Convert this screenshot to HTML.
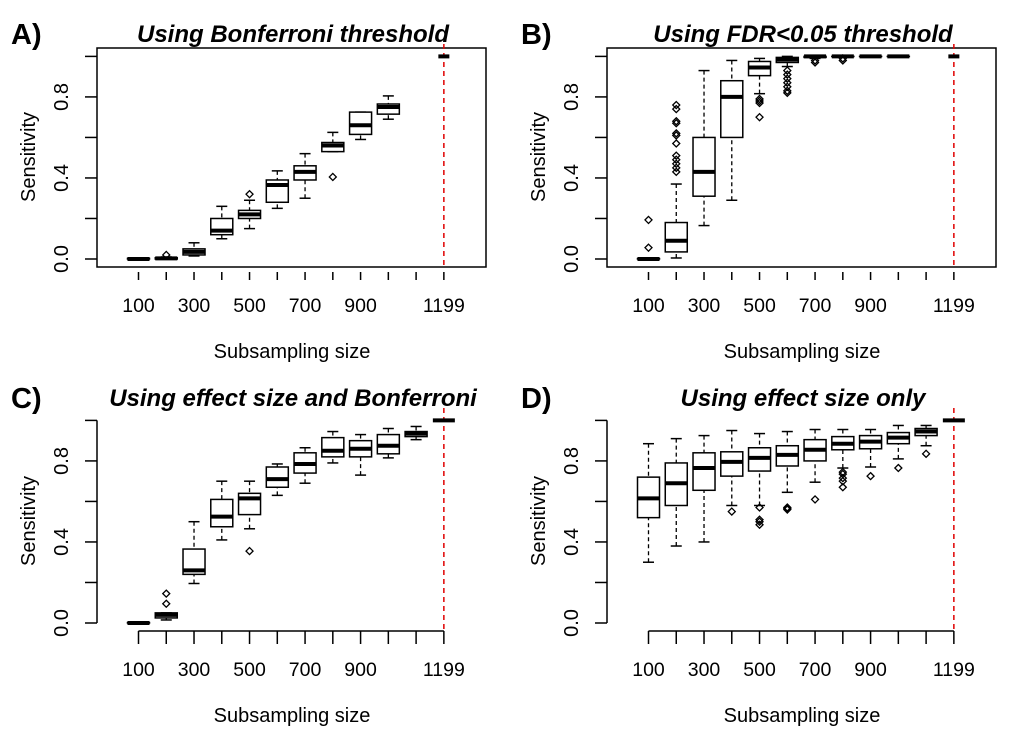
<!DOCTYPE html>
<html><head><meta charset="utf-8">
<style>
html,body{margin:0;padding:0;background:#fff;}
svg{display:block;font-family:"Liberation Sans",Arial,sans-serif;}
</style></head>
<body>
<svg id="fig" width="1020" height="729" viewBox="0 0 1020 729" xmlns="http://www.w3.org/2000/svg"></svg>
<script>
// Shared axis data
const xPositions = [1,2,3,4,5,6,7,8,9,10,11,12];
const xTickLabels = ["100","","300","","500","","700","","900","","","1199"];
const yTicks = [0,0.2,0.4,0.6,0.8,1.0];
const yTickLabels = ["0.0","","0.4","","0.8",""];

// Panel A: [lo, q1, median, q3, hi]
const statsA = [[0,0,0,0.003,0.005],[0,0,0.003,0.006,0.01],[0.015,0.02,0.035,0.05,0.08],[0.1,0.12,0.14,0.2,0.26],[0.15,0.2,0.22,0.24,0.29],[0.25,0.28,0.365,0.39,0.435],[0.3,0.39,0.43,0.46,0.52],[0.53,0.53,0.56,0.575,0.625],[0.59,0.615,0.66,0.725,0.725],[0.69,0.715,0.75,0.765,0.805],null,[1,1,1,1,1]];
const outA = [[],[0.02],[],[],[0.32],[],[],[0.405],[],[],[],[]];
// Panel B
const statsB = [[0,0,0,0.002,0.004],[0.005,0.035,0.09,0.18,0.37],[0.165,0.31,0.43,0.6,0.93],[0.29,0.6,0.8,0.88,0.98],[0.816,0.905,0.945,0.975,0.99],[0.95,0.97,0.985,0.995,1.0],[0.99,0.995,1,1,1],[1,1,1,1,1],[1,1,1,1,1],[1,1,1,1,1],null,[1,1,1,1,1]];
const outB = [[0.056,0.193],[0.43,0.45,0.47,0.49,0.51,0.57,0.61,0.62,0.67,0.68,0.74,0.76],[],[],[0.79,0.78,0.77,0.70],[0.93,0.91,0.89,0.87,0.85,0.83,0.82],[0.98,0.97],[0.99,0.98],[],[],[],[]];
// Panel C
const statsC = [[0,0,0,0.002,0.004],[0.015,0.025,0.04,0.05,0.05],[0.195,0.24,0.26,0.365,0.5],[0.41,0.475,0.525,0.61,0.7],[0.465,0.535,0.615,0.64,0.7],[0.63,0.67,0.71,0.77,0.785],[0.69,0.74,0.785,0.84,0.865],[0.79,0.82,0.85,0.915,0.945],[0.73,0.82,0.86,0.9,0.93],[0.815,0.835,0.875,0.93,0.96],[0.905,0.92,0.935,0.945,0.97],[1,1,1,1,1]];
const outC = [[],[0.095,0.145],[],[],[0.355],[],[],[],[],[],[],[]];
// Panel D
const statsD = [[0.3,0.52,0.615,0.72,0.885],[0.38,0.58,0.69,0.79,0.91],[0.4,0.655,0.765,0.84,0.925],[0.58,0.725,0.795,0.845,0.95],[0.58,0.75,0.815,0.865,0.935],[0.645,0.775,0.83,0.875,0.945],[0.695,0.8,0.855,0.905,0.955],[0.765,0.855,0.885,0.92,0.955],[0.77,0.86,0.895,0.925,0.955],[0.81,0.885,0.915,0.94,0.975],[0.875,0.925,0.945,0.96,0.975],[1,1,1,1,1]];
const outD = [[],[],[],[0.55],[0.57,0.51,0.50,0.485],[0.565,0.57,0.56],[0.61],[0.745,0.735,0.715,0.7,0.67],[0.725],[0.765],[0.835],[]];

const panels = [
 {id:"a",letter:"A)",title:"Using Bonferroni threshold",ox:0,oy:0,stats:statsA,outs:outA,framed:true,lastHalf:5.5},
 {id:"b",letter:"B)",title:"Using FDR<0.05 threshold",ox:510,oy:0,stats:statsB,outs:outB,framed:true,lastHalf:5.5},
 {id:"c",letter:"C)",title:"Using effect size and Bonferroni",ox:0,oy:364,stats:statsC,outs:outC,framed:false,lastHalf:11},
 {id:"d",letter:"D)",title:"Using effect size only",ox:510,oy:364,stats:statsD,outs:outD,framed:false,lastHalf:11}
];
const NS="http://www.w3.org/2000/svg";
const svg=document.getElementById('fig');
function mk(tag,attrs,parent,text){const e=document.createElementNS(NS,tag);for(const k in attrs)e.setAttribute(k,attrs[k]);if(text!==undefined)e.textContent=text;parent.appendChild(e);return e;}

panels.forEach(p=>{
  const g=mk('g',{transform:`translate(${p.ox},${p.oy})`},svg);
  
  
  const X=v=>138.5+(v-1)*27.76;
  const Y=v=>259-v*202.6;
  const hw=11;
  let t=mk('text',{x:11,y:44,'font-size':29,'font-weight':'bold'},g,p.letter);
  
  
  t=mk('text',{x:293,y:42,'font-size':24,'font-weight':'bold','font-style':'italic','text-anchor':'middle'},g,p.title);
  
  
  if(p.framed){
    const r=mk('rect',{x:97,y:48,width:389,height:219,fill:'none',stroke:'#000','stroke-width':1.5},g);
    
    
  } else {
    const ya=mk('line',{x1:97,y1:Y(0),x2:97,y2:Y(1),stroke:'#000','stroke-width':1.5},g);
    
    
    const xa=mk('line',{x1:X(1),y1:267,x2:X(12),y2:267,stroke:'#000','stroke-width':1.5},g);
    
    
  }
  yTicks.forEach((v,i)=>{
    const l=mk('line',{x1:85,y1:Y(v),x2:97,y2:Y(v),stroke:'#000','stroke-width':1.5},g);
    
    
    if(yTickLabels[i]){
      const tt=mk('text',{x:0,y:0,'font-size':20,'text-anchor':'middle',transform:`translate(68,${Y(v)}) rotate(-90)`},g,yTickLabels[i]);
      
      
    }
  });
  xPositions.forEach((v,i)=>{
    const l=mk('line',{x1:X(v),y1:p.framed?272:267,x2:X(v),y2:280,stroke:'#000','stroke-width':1.5},g);
    
    
    if(xTickLabels[i]){
      const tt=mk('text',{x:X(v),y:312,'font-size':19.5,'text-anchor':'middle'},g,xTickLabels[i]);
      
      
    }
  });
  t=mk('text',{x:0,y:0,'font-size':20,'text-anchor':'middle',transform:'translate(35,157) rotate(-90)'},g,'Sensitivity');
  
  
  t=mk('text',{x:292,y:358,'font-size':20,'text-anchor':'middle'},g,'Subsampling size');
  
  
  const rl=mk('line',{x1:X(12),y1:44,x2:X(12),y2:267,stroke:'#e00000','stroke-width':1.5,'stroke-dasharray':'5,4'},g);
  
  
  p.stats.forEach((s,i)=>{
    if(!s) return;
    const x=X(xPositions[i]);
    const bg=mk('g',{},g);
    
    
    const [lo,q1,md,q3,hi]=s;
    const h = (i===11)?p.lastHalf:hw;
    if(i<11){
      mk('line',{x1:x,y1:Y(hi),x2:x,y2:Y(q3),stroke:'#000','stroke-width':1.3,'stroke-dasharray':'4,3'},bg);
      mk('line',{x1:x,y1:Y(lo),x2:x,y2:Y(q1),stroke:'#000','stroke-width':1.3,'stroke-dasharray':'4,3'},bg);
      mk('line',{x1:x-5.5,y1:Y(hi),x2:x+5.5,y2:Y(hi),stroke:'#000','stroke-width':1.5},bg);
      mk('line',{x1:x-5.5,y1:Y(lo),x2:x+5.5,y2:Y(lo),stroke:'#000','stroke-width':1.5},bg);
      mk('rect',{x:x-h,y:Y(q3),width:2*h,height:Math.max(0.1,Y(q1)-Y(q3)),fill:'#fff',stroke:'#000','stroke-width':1.5},bg);
    }
    mk('line',{x1:x-h,y1:Y(md),x2:x+h,y2:Y(md),stroke:'#000','stroke-width':4},bg);
    p.outs[i].forEach(o=>{
      const d=mk('path',{d:`M${x},${Y(o)-3.5}L${x+3.5},${Y(o)}L${x},${Y(o)+3.5}L${x-3.5},${Y(o)}Z`,fill:'none',stroke:'#000','stroke-width':1.3},bg);
      
      
    });
  });
});
</script>
</body></html>
